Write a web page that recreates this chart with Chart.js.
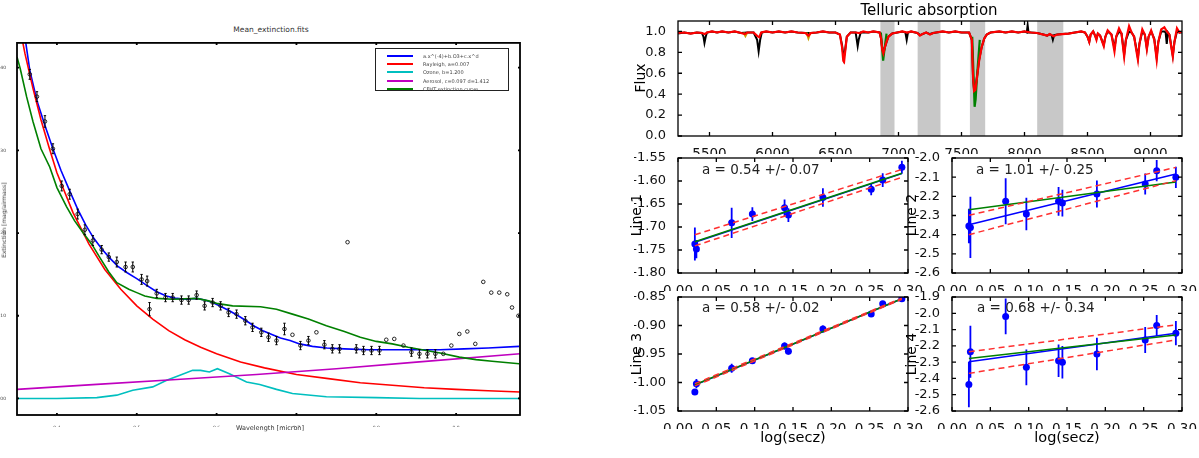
<!DOCTYPE html>
<html>
<head>
<meta charset="utf-8">
<script src="https://cdn.jsdelivr.net/npm/chart.js@4.4.1/dist/chart.umd.min.js"></script>
<style>
  body { margin: 0; background: #fff; }
  #page { position: relative; width: 1199px; height: 458px; overflow: hidden; font-family: "DejaVu Sans", sans-serif; background: #fff; }
  canvas { position: absolute; }
  .lbl { position: absolute; white-space: nowrap; line-height: 1; transform: translate(-50%, -50%); color: #000; }
  .rot { transform: translate(-50%, -50%) rotate(-90deg); }
  .ann { position: absolute; white-space: nowrap; line-height: 1; transform: translate(0, -50%); font-size: 13.5px; color: #222; }
  .legend { position: absolute; left: 375px; top: 48px; width: 134px; height: 43px; border: 1.5px solid #222; background: #fff; padding-top: 3px; box-sizing: border-box; }
  .legend .row { height: 8.2px; display: flex; align-items: center; font-size: 5px; color: #444; white-space: nowrap; }
  .legend .sw { display: inline-block; width: 26px; height: 2px; margin: 0 10px 0 11px; }
</style>
</head>
<body>
<div id="page">
  <div class="lbl" style="left:271px;top:30px;font-size:7.5px;color:#333">Mean_extinction.fits</div>
  <div class="lbl" style="left:270px;top:428px;font-size:6.5px;color:#333">Wavelength [micron]</div>
  <div class="lbl rot" style="left:4px;top:220px;font-size:6px;color:#333">Extinction [mag/airmass]</div>
  <div class="legend">
    <div class="row"><span class="sw" style="background:#0000ff"></span>a.x^(-4)+b.O3+c.x^d</div>
    <div class="row"><span class="sw" style="background:#ff0000"></span>Rayleigh, a=0.007</div>
    <div class="row"><span class="sw" style="background:#00bfbf"></span>Ozone, b=1.200</div>
    <div class="row"><span class="sw" style="background:#bf00bf"></span>Aerosol, c=0.097 d=1.412</div>
    <div class="row"><span class="sw" style="background:#008000"></span>CFHT extinction curve</div>
  </div>

  <div class="lbl" style="left:929px;top:10px;font-size:15px">Telluric absorption</div>
  <div class="lbl rot" style="left:640px;top:78px;font-size:14px">Flux</div>
  <div class="lbl rot" style="left:636px;top:215px;font-size:14px">Line 1</div>
  <div class="lbl rot" style="left:911px;top:215px;font-size:14px">Line 2</div>
  <div class="lbl rot" style="left:636px;top:354px;font-size:14px">Line 3</div>
  <div class="lbl rot" style="left:911px;top:354px;font-size:14px">Line 4</div>
  <div class="lbl" style="left:793px;top:437px;font-size:14.5px">log(secz)</div>
  <div class="lbl" style="left:1067px;top:437px;font-size:14.5px">log(secz)</div>
  <div class="ann" style="left:702px;top:170px">a = 0.54 +/- 0.07</div>
  <div class="ann" style="left:976px;top:170px">a = 1.01 +/- 0.25</div>
  <div class="ann" style="left:702px;top:308px">a = 0.58 +/- 0.02</div>
  <div class="ann" style="left:977px;top:308px">a = 0.68 +/- 0.34</div>
</div>
<script>
// ---- extinction curve (left) ----
const extWave = [0.366, 0.375, 0.385, 0.395, 0.406, 0.416, 0.426, 0.435, 0.445, 0.456, 0.465, 0.475, 0.486, 0.495,
  0.506, 0.513, 0.516, 0.525, 0.536, 0.545, 0.556, 0.565, 0.575, 0.585, 0.595, 0.605, 0.615, 0.625, 0.636, 0.645,
  0.656, 0.665, 0.675, 0.685, 0.695, 0.705, 0.715, 0.725, 0.735, 0.745, 0.754, 0.764, 0.775, 0.784, 0.794, 0.804,
  0.8125, 0.8225, 0.834, 0.844, 0.854, 0.864, 0.874, 0.884, 0.894, 0.904, 0.914, 0.924, 0.934, 0.944, 0.954, 0.964, 0.970, 0.978];
const extVal = [0.392, 0.365, 0.335, 0.302, 0.257, 0.247, 0.223, 0.204, 0.191, 0.180, 0.171, 0.165, 0.159, 0.159,
  0.144, 0.142, 0.108, 0.127, 0.122, 0.122, 0.119, 0.119, 0.125, 0.112, 0.116, 0.112, 0.104, 0.102, 0.094, 0.086,
  0.080, 0.074, 0.070, 0.084, 0.077, 0.064, 0.070, 0.080, 0.065, 0.060, 0.060, 0.189, 0.060, 0.058, 0.058, 0.058,
  0.071, 0.072, 0.064, 0.056, 0.054, 0.054, 0.054, 0.054, 0.064, 0.078, 0.081, 0.066, 0.141, 0.128, 0.128, 0.126, 0.110, 0.100];
const extErr = [0.006, 0.006, 0.007, 0.006, 0.006, 0.006, 0.006, 0.006, 0.006, 0.005, 0.005, 0.006, 0.006, 0.006,
  0.006, 0.006, 0.008, 0.005, 0.005, 0.005, 0.005, 0.005, 0.005, 0.005, 0.005, 0.005, 0.005, 0.005, 0.005, 0.005,
  0.005, 0.005, 0.005, 0.007, 0, 0.005, 0.005, 0, 0.005, 0.005, 0.005, 0, 0.005, 0.005, 0.005, 0.005,
  0, 0, 0, 0.005, 0.005, 0.005, 0.005, 0, 0, 0, 0, 0, 0, 0, 0, 0, 0, 0];

const fitWave = [0.355, 0.361, 0.366, 0.375, 0.385, 0.395, 0.405, 0.416, 0.426, 0.436, 0.446, 0.456, 0.466, 0.476, 0.488,
  0.500, 0.512, 0.525, 0.537, 0.550, 0.562, 0.575, 0.585, 0.595, 0.606, 0.616, 0.627, 0.637, 0.648, 0.658, 0.670,
  0.680, 0.692, 0.704, 0.720, 0.738, 0.760, 0.790, 0.820, 0.850, 0.880, 0.910, 0.940, 0.979];
const fitVal = [0.470, 0.430, 0.397, 0.360, 0.330, 0.302, 0.276, 0.251, 0.229, 0.210, 0.194, 0.181, 0.170, 0.160, 0.152,
  0.145, 0.137, 0.129, 0.124, 0.121, 0.120, 0.121, 0.119, 0.116, 0.111, 0.106, 0.100, 0.094, 0.087, 0.082, 0.077,
  0.073, 0.070, 0.066, 0.063, 0.061, 0.060, 0.059, 0.059, 0.059, 0.059, 0.060, 0.061, 0.063];

const rayWave = [0.35, 0.36, 0.37, 0.38, 0.39, 0.40, 0.42, 0.44, 0.46, 0.48, 0.50, 0.52, 0.54, 0.56, 0.58, 0.60,
  0.63, 0.66, 0.70, 0.74, 0.78, 0.82, 0.86, 0.90, 0.94, 0.98];
const rayVal = [0.466, 0.417, 0.375, 0.337, 0.304, 0.273, 0.225, 0.187, 0.156, 0.132, 0.112, 0.096, 0.082, 0.071, 0.062, 0.054,
  0.044, 0.037, 0.029, 0.024, 0.019, 0.016, 0.013, 0.011, 0.0093, 0.0079];

const ozoneWave = [0.35, 0.40, 0.45, 0.475, 0.495, 0.52, 0.5375, 0.554, 0.57, 0.58, 0.591, 0.601, 0.616, 0.6375, 0.654,
  0.675, 0.695, 0.7375, 0.80, 0.854, 0.98];
const ozoneVal = [0.000, 0.000, 0.001, 0.004, 0.010, 0.014, 0.022, 0.028, 0.034, 0.034, 0.032, 0.036, 0.030, 0.020, 0.017,
  0.011, 0.006, 0.002, 0.001, 0.000, 0.000];

const aeroWave = [0.35, 0.45, 0.55, 0.65, 0.75, 0.85, 0.98];
const aeroVal = [0.011, 0.017, 0.023, 0.029, 0.036, 0.044, 0.054];

const cfhtWave = [0.350, 0.354, 0.362, 0.370, 0.380, 0.391, 0.400, 0.412, 0.422, 0.433, 0.444, 0.454, 0.465, 0.475,
  0.490, 0.500, 0.510, 0.525, 0.545, 0.575, 0.590, 0.600, 0.620, 0.655, 0.675, 0.695, 0.715, 0.7375, 0.760, 0.780,
  0.800, 0.820, 0.840, 0.8625, 0.880, 0.904, 0.925, 0.945, 0.979];
const cfhtVal = [0.413, 0.399, 0.365, 0.335, 0.302, 0.280, 0.255, 0.232, 0.215, 0.200, 0.186, 0.170, 0.153, 0.140,
  0.132, 0.128, 0.124, 0.121, 0.120, 0.121, 0.118, 0.115, 0.112, 0.111, 0.108, 0.102, 0.096, 0.088, 0.081, 0.074,
  0.069, 0.066, 0.062, 0.058, 0.055, 0.050, 0.047, 0.045, 0.042];

const extXTicks = [0.4, 0.5, 0.6, 0.7, 0.8, 0.9];
const extYTicks = [0.0, 0.1, 0.2, 0.3, 0.4];

// ---- telluric spectrum (top right) ----
const bandStart = [6855, 7150, 7565, 8100];
const bandEnd = [6970, 7335, 7690, 8310];

const redWave = [5250, 5300, 5350, 5400, 5440, 5462, 5480, 5520, 5560, 5600, 5650, 5700, 5750, 5780, 5800, 5850, 5880, 5895,
  5910, 5950, 6000, 6050, 6100, 6150, 6200, 6260, 6285, 6305, 6350, 6400, 6450, 6500, 6535, 6552, 6562, 6568, 6576, 6590,
  6620, 6660, 6690, 6720, 6760, 6800, 6850, 6862, 6870, 6880, 6890, 6905, 6920, 6950, 6990, 7030, 7070, 7100, 7150, 7170,
  7190, 7220, 7250, 7275, 7300, 7350, 7400, 7450, 7500, 7560, 7582, 7592, 7600, 7610, 7622, 7640, 7660, 7680, 7700, 7730,
  7800, 7850, 7900, 7950, 8000, 8050, 8100, 8150, 8180, 8200, 8230, 8260, 8300, 8350, 8400, 8450, 8480, 8500, 8514, 8525,
  8545, 8560, 8571, 8582, 8600, 8629, 8642, 8660, 8690, 8714, 8728, 8750, 8770, 8791, 8805, 8830, 8850, 8870, 8890, 8900,
  8912, 8935, 8955, 8971, 8985, 9005, 9030, 9049, 9062, 9085, 9110, 9130, 9150, 9165, 9177, 9190, 9210, 9230, 9250];
const redFlux = [0.985, 0.99, 0.98, 0.99, 0.985, 0.975, 0.99, 1.0, 0.99, 1.0, 0.99, 1.0, 0.985, 0.975, 0.99, 0.99, 0.955, 0.945,
  0.99, 1.0, 0.99, 1.0, 0.99, 1.0, 0.99, 0.985, 0.96, 0.985, 0.99, 1.0, 0.99, 0.99, 0.97, 0.85, 0.72, 0.71, 0.80, 0.95,
  0.99, 0.99, 0.985, 1.0, 0.99, 1.0, 0.99, 0.93, 0.83, 0.79, 0.84, 0.90, 0.95, 0.98, 0.99, 1.0, 0.99, 1.0, 0.985, 0.96,
  0.975, 0.99, 0.97, 0.985, 0.99, 1.0, 0.99, 1.0, 0.99, 0.99, 0.92, 0.55, 0.43, 0.44, 0.55, 0.72, 0.85, 0.93, 0.97, 0.99,
  1.0, 0.99, 1.0, 0.99, 1.0, 0.99, 0.985, 0.97, 0.96, 0.975, 0.955, 0.97, 0.975, 0.98, 0.99, 1.0, 0.99, 0.95, 0.90, 0.97,
  1.0, 0.96, 0.92, 0.98, 0.96, 0.86, 0.95, 1.01, 0.97, 0.81, 0.95, 1.03, 0.98, 0.76, 0.92, 1.05, 0.99, 0.95, 0.80, 0.73,
  0.88, 1.02, 0.97, 0.83, 0.95, 1.01, 0.92, 0.73, 0.90, 1.02, 1.04, 1.00, 0.97, 0.85, 0.76, 0.90, 1.03, 0.99, 1.0];

const blackWave = [5250, 5300, 5350, 5400, 5440, 5452, 5460, 5470, 5480, 5520, 5560, 5600, 5650, 5700, 5750, 5800, 5850,
  5878, 5890, 5902, 5915, 5950, 6000, 6050, 6100, 6150, 6200, 6260, 6305, 6350, 6400, 6450, 6500, 6535, 6552, 6565, 6576,
  6590, 6620, 6660, 6670, 6676, 6684, 6700, 6760, 6800, 6850, 6862, 6872, 6882, 6892, 6905, 6920, 6950, 6990, 7030, 7055,
  7065, 7075, 7100, 7150, 7170, 7190, 7220, 7250, 7275, 7300, 7350, 7400, 7450, 7500, 7560, 7582, 7592, 7600, 7610, 7622,
  7640, 7660, 7680, 7700, 7730, 7800, 7850, 7900, 7950, 8000, 8018, 8025, 8032, 8050, 8100, 8150, 8180, 8200, 8215, 8225,
  8235, 8260, 8300, 8350, 8400, 8450, 8480, 8500, 8514, 8525, 8545, 8560, 8571, 8582, 8600, 8629, 8642, 8660, 8690, 8714,
  8728, 8750, 8770, 8791, 8805, 8830, 8850, 8870, 8890, 8900, 8912, 8935, 8955, 8971, 8985, 9005, 9030, 9049, 9062, 9085,
  9110, 9120, 9129, 9138, 9150, 9165, 9177, 9190, 9210, 9230, 9250];
const blackFlux = [0.98, 0.99, 0.98, 0.99, 0.985, 0.95, 0.89, 0.95, 0.99, 1.0, 0.99, 1.0, 0.99, 1.0, 0.985, 0.99, 0.99,
  0.92, 0.81, 0.92, 0.99, 1.0, 0.99, 1.0, 0.99, 1.0, 0.99, 0.985, 0.985, 0.99, 1.0, 0.99, 0.99, 0.97, 0.87, 0.75, 0.82,
  0.95, 0.99, 0.99, 0.91, 0.86, 0.92, 0.99, 0.99, 1.0, 0.99, 0.93, 0.83, 0.80, 0.85, 0.90, 0.95, 0.98, 0.99, 1.0, 0.99,
  0.92, 0.99, 1.0, 0.985, 0.965, 0.975, 0.99, 0.975, 0.985, 0.99, 1.0, 0.99, 1.0, 0.99, 0.99, 0.92, 0.55, 0.44, 0.45, 0.56,
  0.73, 0.85, 0.93, 0.97, 0.99, 1.0, 0.99, 1.0, 0.99, 1.0, 0.99, 1.06, 0.99, 0.99, 0.985, 0.97, 0.96, 0.975, 0.965, 0.92,
  0.965, 0.97, 0.975, 0.98, 0.99, 1.0, 0.99, 0.95, 0.90, 0.97, 1.0, 0.96, 0.93, 0.98, 0.96, 0.87, 0.95, 1.0, 0.97, 0.84,
  0.95, 1.0, 0.98, 0.78, 0.92, 1.0, 0.99, 0.95, 0.82, 0.75, 0.88, 1.0, 0.97, 0.84, 0.95, 1.0, 0.93, 0.75, 0.90, 1.0,
  1.0, 0.99, 0.88, 0.99, 0.97, 0.86, 0.77, 0.90, 1.0, 0.99, 0.99];

const greenWave = [6860, 6878, 6890, 6905, 7000, 7585, 7598, 7604, 7612, 7625, 7645];
const greenFlux = [0.99, 0.72, 0.84, 0.98, null, 0.95, 0.50, 0.28, 0.35, 0.60, 0.92];

const yellowWave = [5770, 5785, 5800, 5900, 6270, 6285, 6300];
const yellowFlux = [0.99, 0.955, 0.99, null, 0.99, 0.935, 0.99];

const specXTicks = [5500, 6000, 6500, 7000, 7500, 8000, 8500, 9000];
const specYTicks = [0.0, 0.2, 0.4, 0.6, 0.8, 1.0];

// ---- line strength vs airmass (4 small panels) ----
const logSecz = [0.022, 0.024, 0.070, 0.097, 0.139, 0.144, 0.189, 0.252, 0.267, 0.292];
const line1 = [-1.737, -1.748, -1.691, -1.672, -1.658, -1.674, -1.636, -1.618, -1.598, -1.570];
const line1Err = [0.036, 0.02, 0.033, 0.015, 0.018, 0.015, 0.02, 0.013, 0.015, 0.014];
const line2 = [-2.355, -2.362, -2.226, -2.292, -2.226, -2.235, -2.188, -2.136, -2.066, -2.101];
const line2Err = [0.09, 0.16, 0.12, 0.085, 0.075, 0.07, 0.07, 0.055, 0.055, 0.055];
const line3 = [-1.0165, -1.002, -0.975, -0.962, -0.936, -0.945, -0.906, -0.880, -0.862, -0.853];
const line3Err = [0.004, 0.008, 0.008, 0.005, 0.006, 0.006, 0.006, 0.005, 0.004, 0.004];
const line4 = [-2.437, -2.236, -2.019, -2.332, -2.291, -2.301, -2.25, -2.164, -2.075, -2.122];
const line4Err = [0.14, 0.16, 0.11, 0.11, 0.1, 0.1, 0.1, 0.08, 0.065, 0.075];

const fitX = [0.022, 0.292];
const fit1 = { blue: [-1.733, -1.584], green: [-1.732, -1.583], hi: [-1.717, -1.575], lo: [-1.741, -1.592] };
const fit2 = { blue: [-2.348, -2.083], green: [-2.270, -2.125], hi: [-2.299, -2.049], lo: [-2.400, -2.118] };
const fit3 = { blue: [-1.0047, -0.853], green: [-1.004, -0.853], hi: [-1.002, -0.852], lo: [-1.006, -0.854] };
const fit4 = { blue: [-2.297, -2.122], green: [-2.277, -2.133], hi: [-2.236, -2.071], lo: [-2.369, -2.164] };

const seczTicks = [0.0, 0.05, 0.1, 0.15, 0.2, 0.25, 0.3];
const line1Ticks = [-1.80, -1.75, -1.70, -1.65, -1.60, -1.55];
const line2Ticks = [-2.6, -2.5, -2.4, -2.3, -2.2, -2.1, -2.0];
const line3Ticks = [-1.05, -1.00, -0.95, -0.90, -0.85];
const line4Ticks = [-2.6, -2.5, -2.4, -2.3, -2.2, -2.1, -2.0, -1.9];

Chart.defaults.font.family = "'DejaVu Sans', sans-serif";
Chart.defaults.color = '#000';

const page = document.getElementById('page');

// box outline plus matplotlib-style inward ticks on all four sides
function frame(w, len) {
  return {
    id: 'frame',
    afterDatasetsDraw(chart) {
      const { ctx, chartArea: a, scales } = chart;
      ctx.save();
      ctx.strokeStyle = '#000';
      ctx.lineWidth = w;
      ctx.beginPath();
      scales.x.ticks.forEach(t => {
        const p = scales.x.getPixelForValue(t.value);
        ctx.moveTo(p, a.bottom); ctx.lineTo(p, a.bottom - len);
        ctx.moveTo(p, a.top); ctx.lineTo(p, a.top + len);
      });
      scales.y.ticks.forEach(t => {
        const p = scales.y.getPixelForValue(t.value);
        ctx.moveTo(a.left, p); ctx.lineTo(a.left + len, p);
        ctx.moveTo(a.right, p); ctx.lineTo(a.right - len, p);
      });
      ctx.stroke();
      ctx.strokeRect(a.left, a.top, a.right - a.left, a.bottom - a.top);
      ctx.restore();
    }
  };
}

function makeChart(box, pad, xs, ys, datasets, fr) {
  const cv = document.createElement('canvas');
  cv.width = pad.l + box.r - box.l + pad.r;
  cv.height = pad.t + box.b - box.t + pad.b;
  cv.style.left = (box.l - pad.l) + 'px';
  cv.style.top = (box.t - pad.t) + 'px';
  page.insertBefore(cv, page.firstChild);
  const axis = (o, horiz) => ({
    type: 'linear', min: o.min, max: o.max,
    grid: { display: false }, border: { display: false },
    afterBuildTicks: s => { s.ticks = o.ticks.map(v => ({ value: v })); },
    ticks: {
      autoSkip: false, maxRotation: 0,
      padding: o.pad, color: o.color || '#111', font: { size: o.size },
      callback: v => v.toFixed(o.dec)
    },
    afterFit: s => {
      if (horiz) s.height = pad.b; else s.width = pad.l;
      s.paddingLeft = s.paddingRight = s.paddingTop = s.paddingBottom = 0;
    }
  });
  return new Chart(cv, {
    type: 'line',
    // first dataset in the list is drawn last, so reverse a bottom-first list
    data: { datasets: datasets.slice().reverse() },
    options: {
      responsive: false, animation: false, devicePixelRatio: 1, events: [],
      layout: { padding: { top: pad.t, right: pad.r, left: 0, bottom: 0 } },
      plugins: { legend: { display: false }, tooltip: { enabled: false } },
      scales: { x: axis(xs, true), y: axis(ys, false) }
    },
    plugins: [fr]
  });
}

const pts = (xs, ys) => xs.map((x, i) => ({ x, y: ys[i] }));
const line = (xs, ys, color, w, extra) => Object.assign({
  data: pts(xs, ys), borderColor: color, borderWidth: w, pointRadius: 0,
  fill: false, tension: 0, spanGaps: false
}, extra || {});

function errSegs(xs, ys, es, cap) {
  const out = [];
  xs.forEach((x, i) => {
    if (!es[i]) return;
    const lo = ys[i] - es[i], hi = ys[i] + es[i];
    out.push({ x, y: lo }, { x, y: hi }, { x, y: null });
    if (cap) {
      out.push({ x: x - cap, y: lo }, { x: x + cap, y: lo }, { x, y: null });
      out.push({ x: x - cap, y: hi }, { x: x + cap, y: hi }, { x, y: null });
    }
  });
  return out;
}

// left: extinction
makeChart({ l: 17, t: 42, r: 520, b: 415 }, { l: 17, t: 4, r: 6, b: 12 },
  { min: 0.35, max: 0.98, ticks: extXTicks, dec: 1, size: 4.5, pad: 2, color: '#444' },
  { min: -0.02, max: 0.43, ticks: extYTicks, dec: 2, size: 4.5, pad: 3, color: '#444' },
  [
    line(fitWave, fitVal, '#0000ff', 1.6),
    line(rayWave, rayVal, '#ff0000', 1.6),
    line(ozoneWave, ozoneVal, '#00bfbf', 1.6),
    line(aeroWave, aeroVal, '#bf00bf', 1.6),
    line(cfhtWave, cfhtVal, '#008000', 1.6),
    { data: errSegs(extWave, extVal, extErr, 0.0015), borderColor: '#000', borderWidth: 1, pointRadius: 0, spanGaps: false, fill: false },
    { data: pts(extWave, extVal), showLine: false, pointRadius: 1.8, pointBorderWidth: 0.9,
      pointBorderColor: '#111', pointBackgroundColor: 'rgba(0,0,0,0)' }
  ], frame(1.8, 2));

// top right: telluric absorption
const bands = bandStart.map((s, i) => ({
  data: [{ x: s, y: 1.1 }, { x: bandEnd[i], y: 1.1 }], borderWidth: 0, pointRadius: 0,
  fill: 'origin', backgroundColor: '#c8c8c8'
}));
makeChart({ l: 678, t: 21, r: 1182, b: 136 }, { l: 44, t: 6, r: 16, b: 18 },
  { min: 5250, max: 9250, ticks: specXTicks, dec: 0, size: 13.5, pad: 2 },
  { min: 0, max: 1.1, ticks: specYTicks, dec: 1, size: 13, pad: 4 },
  bands.concat([
    line(blackWave, blackFlux, '#000000', 2),
    line(yellowWave, yellowFlux, '#c8a000', 2),
    line(greenWave, greenFlux, '#008000', 2.2),
    line(redWave, redFlux, '#ff0000', 2.2)
  ]), frame(1.3, 4));

// small panels
function linePanel(box, ymin, ymax, yticks, ydec, vals, errs, fit) {
  makeChart(box, { l: 44, t: 6, r: 16, b: 18 },
    { min: 0, max: 0.3, ticks: seczTicks, dec: 2, size: 13.5, pad: 2 },
    { min: ymin, max: ymax, ticks: yticks, dec: ydec, size: 13, pad: 4 },
    [
      { data: errSegs(logSecz, vals, errs, 0), borderColor: '#0000ff', borderWidth: 1.8, pointRadius: 0, spanGaps: false, fill: false },
      { data: pts(logSecz, vals), showLine: false, pointRadius: 3.5, pointBorderWidth: 0,
        pointBackgroundColor: '#0000ff' },
      line(fitX, fit.blue, '#0000ff', 1.5),
      line(fitX, fit.green, '#008000', 1.5),
      line(fitX, fit.hi, '#ff3030', 1.5, { borderDash: [6, 4] }),
      line(fitX, fit.lo, '#ff3030', 1.5, { borderDash: [6, 4] })
    ], frame(1.3, 4));
}
linePanel({ l: 678, t: 158, r: 908, b: 273 }, -1.80, -1.55, line1Ticks, 2, line1, line1Err, fit1);
linePanel({ l: 952, t: 158, r: 1182, b: 273 }, -2.6, -2.0, line2Ticks, 1, line2, line2Err, fit2);
linePanel({ l: 678, t: 297, r: 908, b: 411 }, -1.05, -0.85, line3Ticks, 2, line3, line3Err, fit3);
linePanel({ l: 952, t: 297, r: 1182, b: 411 }, -2.6, -1.9, line4Ticks, 1, line4, line4Err, fit4);
</script>
</body>
</html>
